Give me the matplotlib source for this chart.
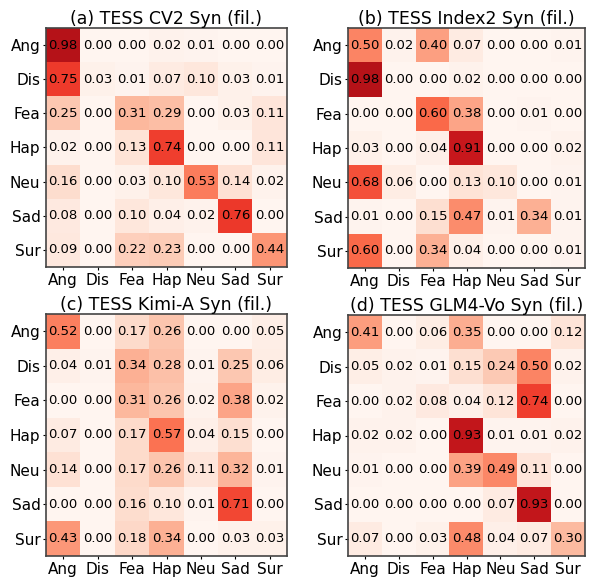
import numpy as np
import matplotlib.pyplot as plt

labels = ['Ang', 'Dis', 'Fea', 'Hap', 'Neu', 'Sad', 'Sur']

titles = ['(a) TESS CV2 Syn (fil.)', '(b) TESS Index2 Syn (fil.)',
          '(c) TESS Kimi-A Syn (fil.)', '(d) TESS GLM4-Vo Syn (fil.)']

cm_cv2 = [
    [0.98, 0.00, 0.00, 0.02, 0.01, 0.00, 0.00],
    [0.75, 0.03, 0.01, 0.07, 0.10, 0.03, 0.01],
    [0.25, 0.00, 0.31, 0.29, 0.00, 0.03, 0.11],
    [0.02, 0.00, 0.13, 0.74, 0.00, 0.00, 0.11],
    [0.16, 0.00, 0.03, 0.10, 0.53, 0.14, 0.02],
    [0.08, 0.00, 0.10, 0.04, 0.02, 0.76, 0.00],
    [0.09, 0.00, 0.22, 0.23, 0.00, 0.00, 0.44],
]
cm_index2 = [
    [0.50, 0.02, 0.40, 0.07, 0.00, 0.00, 0.01],
    [0.98, 0.00, 0.00, 0.02, 0.00, 0.00, 0.00],
    [0.00, 0.00, 0.60, 0.38, 0.00, 0.01, 0.00],
    [0.03, 0.00, 0.04, 0.91, 0.00, 0.00, 0.02],
    [0.68, 0.06, 0.00, 0.13, 0.10, 0.00, 0.01],
    [0.01, 0.00, 0.15, 0.47, 0.01, 0.34, 0.01],
    [0.60, 0.00, 0.34, 0.04, 0.00, 0.00, 0.01],
]
cm_kimi = [
    [0.52, 0.00, 0.17, 0.26, 0.00, 0.00, 0.05],
    [0.04, 0.01, 0.34, 0.28, 0.01, 0.25, 0.06],
    [0.00, 0.00, 0.31, 0.26, 0.02, 0.38, 0.02],
    [0.07, 0.00, 0.17, 0.57, 0.04, 0.15, 0.00],
    [0.14, 0.00, 0.17, 0.26, 0.11, 0.32, 0.01],
    [0.00, 0.00, 0.16, 0.10, 0.01, 0.71, 0.00],
    [0.43, 0.00, 0.18, 0.34, 0.00, 0.03, 0.03],
]
cm_glm = [
    [0.41, 0.00, 0.06, 0.35, 0.00, 0.00, 0.12],
    [0.05, 0.02, 0.01, 0.15, 0.24, 0.50, 0.02],
    [0.00, 0.02, 0.08, 0.04, 0.12, 0.74, 0.00],
    [0.02, 0.02, 0.00, 0.93, 0.01, 0.01, 0.02],
    [0.01, 0.00, 0.00, 0.39, 0.49, 0.11, 0.00],
    [0.00, 0.00, 0.00, 0.00, 0.07, 0.93, 0.00],
    [0.07, 0.00, 0.03, 0.48, 0.04, 0.07, 0.30],
]

mats = [cm_cv2, cm_index2, cm_kimi, cm_glm]

W, H = 592, 577
fig = plt.figure(figsize=(W / 100, H / 100), dpi=100)

# axes boxes in pixels: left, top, right, bottom
boxes = [(46, 28, 287, 267), (348, 28, 585, 268),
         (46, 314, 287, 556), (348, 315, 585, 556)]

for mat, title, (l, t, r, b) in zip(mats, titles, boxes):
    ax = fig.add_axes([l / W, 1 - b / H, (r - l) / W, (b - t) / H])
    m = np.array(mat)
    ax.imshow(m, cmap='Reds', vmin=0, vmax=1.2, aspect='auto')
    for i in range(m.shape[0]):
        for j in range(m.shape[1]):
            ax.text(j, i, '%.2f' % m[i, j], ha='center', va='center',
                    fontsize=9.5, color='black')
    ax.set_xticks(range(len(labels)))
    ax.set_yticks(range(len(labels)))
    ax.set_xticklabels(labels, fontsize=11)
    ax.set_yticklabels(labels, fontsize=11)
    ax.tick_params(length=2.5, pad=1.5)
    ax.set_title(title, fontsize=12.5, pad=3)
    for s in ax.spines.values():
        s.set_color('#444444')
        s.set_linewidth(1.2)

fig.savefig('out.png', dpi=100)
